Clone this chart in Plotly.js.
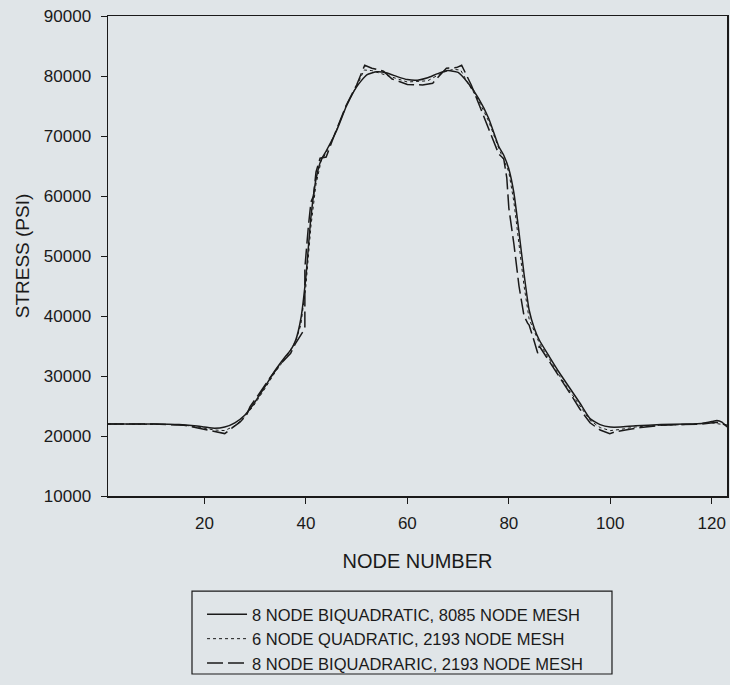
<!DOCTYPE html>
<html>
<head>
<meta charset="utf-8">
<script src="https://cdn.plot.ly/plotly-3.0.1.min.js"></script>
<style>
  html, body { margin: 0; padding: 0; background: #e0e5e8; }
  #chart { width: 730px; height: 685px; }
</style>
</head>
<body>
<div id="chart"></div>
<script>
// Series 1: 8 node biquadratic, 8085 node mesh (solid)
const nodesFine = [1,5,10,15,18,20,22,24,26,28,30,32,34,36,37,38,39,40,41,42,43,44,46,48,50,52,54,56,58,60,62,64,66,68,70,72,74,76,78,79,80,81,82,83,84,85,86,88,90,92,94,96,98,100,102,105,110,115,118,120,121,122,123];
const stressFine = [22000,22000,22000,21900,21700,21500,21300,21500,22200,23500,25700,28300,31000,33300,34300,36000,39500,46500,56500,62800,66000,67500,70800,75000,78200,80200,80700,80500,79900,79400,79300,79700,80400,80900,80600,78800,76300,73000,68300,66800,64500,60500,54000,47000,41000,38000,36000,33200,30500,28000,25500,22900,21900,21500,21500,21700,21900,22000,22100,22400,22600,22300,21500];

// Series 2: 6 node quadratic, 2193 node mesh (dotted)
const nodesQuad = [1,10,15,18,20,22,24,26,28,30,32,34,36,38,39,40,41,42,43,44,46,48,50,51.5,53,56,60,64,67,69,70.5,72,74,76,78,80,81,82,83,84,86,88,90,92,94,96,98,100,102,105,110,115,120,123];
const stressQuad = [22000,22000,21900,21600,21300,21000,20900,21700,23200,25400,28000,30700,33000,35800,38500,45000,55000,62000,65800,67200,70900,75200,78300,81000,80900,80100,79000,79200,80600,81100,81000,78700,76000,72500,68000,64000,59000,52000,45000,39500,35500,32800,30000,27500,25000,22600,21400,20900,21100,21500,21800,21900,22200,21800];

// Series 3: 8 node biquadratic, 2193 node mesh (dashed)
const nodesCoarse = [1,10,16,19,21,24,25.4,27,28.3,29,31,33,35,37,38,39.5,39.8,39.8,40.5,41,41.5,42,42.8,44,46,48,50,51,51.6,53,55.3,57,60,63,65,66.5,67.7,69.7,70.7,72.6,74,76,78,79,79.6,80,81,82,83,83.7,84,85,85.7,86,88,90,92,94,96,98,99.9,101,103,106,110,115,118,121,123];
const stressCoarse = [22000,22000,21800,21300,20900,20400,21300,22300,23500,24900,27300,29800,32000,33800,35500,37500,38200,48000,55000,59000,60000,64000,66300,66500,71000,75200,78500,80500,81800,81300,80800,79500,78600,78500,78800,80200,81300,81400,81800,78500,75500,71500,67000,66200,63000,58000,52000,45000,40000,38800,38500,35800,33800,35000,32500,29800,27200,24500,22200,21000,20400,20700,21000,21400,21800,21900,22000,22300,21800];

const seriesNames = [
  '8 NODE BIQUADRATIC, 8085 NODE MESH',
  '6 NODE QUADRATIC, 2193 NODE MESH',
  '8 NODE BIQUADRARIC, 2193 NODE MESH'
];
const yTicks = [10000,20000,30000,40000,50000,60000,70000,80000,90000];
const xTicks = [20,40,60,80,100,120];

const ink = '#1a1a1a';
const font = 'Arial, "Liberation Sans", sans-serif';

const traces = [
  { x: nodesFine, y: stressFine, name: seriesNames[0], mode: 'lines',
    line: { color: ink, width: 1.5, shape: 'spline', smoothing: 0.5 } },
  { x: nodesQuad, y: stressQuad, name: seriesNames[1], mode: 'lines',
    line: { color: ink, width: 1, dash: 'dot' } },
  { x: nodesCoarse, y: stressCoarse, name: seriesNames[2], mode: 'lines',
    line: { color: ink, width: 1.5, dash: '16px,5px' } }
];

const layout = {
  width: 730, height: 685,
  paper_bgcolor: '#e0e5e8', plot_bgcolor: '#e0e5e8',
  margin: { l: 108, r: 3, t: 16, b: 189, autoexpand: false },
  font: { family: font, size: 17, color: ink },
  showlegend: true,
  legend: {
    x: 0.1519, y: -0.2104, xanchor: 'left', yanchor: 'top',
    bgcolor: 'rgba(0,0,0,0)', borderwidth: 0,
    font: { family: font, size: 16.5, color: ink },
    itemwidth: 40, tracegroupgap: 0
  },
  shapes: [
    { type: 'rect', xref: 'paper', yref: 'paper',
      x0: 0.1357, x1: 0.8142, y0: -0.3708, y1: -0.198,
      line: { color: ink, width: 1.2 }, fillcolor: 'rgba(0,0,0,0)' }
  ],
  xaxis: {
    range: [1, 123], tickvals: xTicks, ticktext: xTicks.map(String),
    showgrid: false, zeroline: false,
    showline: true, linecolor: ink, linewidth: 1.5, mirror: true,
    ticks: 'outside', ticklen: 6, tickcolor: ink, ticklabelstandoff: 5,
    tickfont: { family: font, size: 17, color: ink },
    title: { text: 'NODE NUMBER', font: { family: font, size: 20, color: ink }, standoff: 22 }
  },
  yaxis: {
    range: [10000, 90000], tickvals: yTicks, ticktext: yTicks.map(String),
    showgrid: false, zeroline: false,
    showline: true, linecolor: ink, linewidth: 1.5, mirror: true,
    ticks: 'outside', ticklen: 6, tickcolor: ink, ticklabelstandoff: 6,
    tickfont: { family: font, size: 17, color: ink },
    title: { text: 'STRESS (PSI)', font: { family: font, size: 19, color: ink }, standoff: 9 }
  }
};

Plotly.newPlot('chart', traces, layout, { displayModeBar: false, staticPlot: true });
</script>
</body>
</html>
